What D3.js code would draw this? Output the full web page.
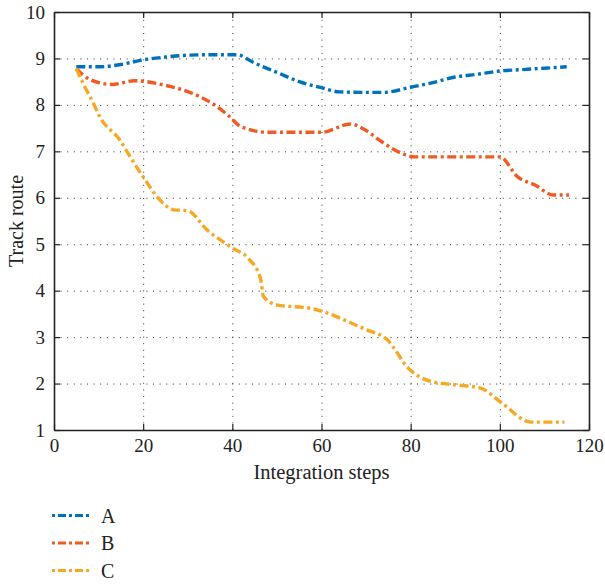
<!DOCTYPE html>
<html>
<head>
<meta charset="utf-8">
<script src="https://cdn.jsdelivr.net/npm/d3@7"></script>
<style>
  body { margin: 0; background: #fff; }
  text { font-family: "Liberation Serif", "DejaVu Serif", serif; fill: #222; }
</style>
</head>
<body>
<svg id="chart"></svg>
<script>
// Series data
const stepsA = [5, 10, 15, 20, 25, 30, 35, 41, 45, 50, 55, 60, 64, 70, 74, 80, 85, 90, 95, 100, 105, 110, 115];
const valuesA = [8.82, 8.82, 8.87, 8.97, 9.03, 9.07, 9.08, 9.08, 8.9, 8.7, 8.5, 8.37, 8.28, 8.27, 8.27, 8.38, 8.48, 8.6, 8.66, 8.73, 8.76, 8.79, 8.82];

const stepsB = [5, 8, 13, 18, 25, 31, 36, 39, 42, 48, 55, 60, 66.5, 70, 73, 77, 81, 90, 100, 104, 108, 112, 115.5];
const valuesB = [8.78, 8.55, 8.44, 8.52, 8.42, 8.25, 8.0, 7.78, 7.53, 7.41, 7.41, 7.41, 7.59, 7.45, 7.24, 7.0, 6.88, 6.88, 6.88, 6.45, 6.27, 6.06, 6.06];

const stepsC = [5, 6.5, 8.8, 10.3, 14.8, 17.1, 20, 23.8, 26.8, 30, 34.3, 40.2, 43.3, 46.3, 47, 50.1, 57.5, 60, 66.5, 70.3, 74.8, 77, 78.5, 85.2, 90.5, 95.7, 100.2, 107, 114.5];
const valuesC = [8.78, 8.47, 8.04, 7.74, 7.24, 6.88, 6.45, 5.95, 5.74, 5.72, 5.31, 4.91, 4.72, 4.27, 3.87, 3.69, 3.62, 3.56, 3.31, 3.15, 2.94, 2.66, 2.44, 2.03, 1.97, 1.9, 1.6, 1.17, 1.17];

const seriesNames = ["A", "B", "C"];
const seriesColors = ["#0072bd", "#f05a23", "#f7a823"];
const xTicks = [0, 20, 40, 60, 80, 100, 120];
const yTicks = [1, 2, 3, 4, 5, 6, 7, 8, 9, 10];

const width = 605;
const height = 584;
const margin = { left: 54, right: 16, top: 12, bottom: 154 };

const svg = d3.select("#chart").attr("width", width).attr("height", height);

const x = d3.scaleLinear().domain([0, 120]).range([margin.left, width - margin.right]);
const y = d3.scaleLinear().domain([1, 10]).range([height - margin.bottom, margin.top]);

// Grid (dotted)
const grid = svg.append("g").attr("stroke", "#333").attr("stroke-width", 1).attr("stroke-dasharray", "1,5.6");
grid.selectAll(".vg").data(xTicks.slice(1, -1)).enter().append("line")
  .attr("x1", d => x(d) + 0.5).attr("x2", d => x(d) + 0.5)
  .attr("y1", y(1)).attr("y2", y(10));
grid.selectAll(".hg").data(yTicks.slice(1, -1)).enter().append("line")
  .attr("y1", d => y(d) + 0.5).attr("y2", d => y(d) + 0.5)
  .attr("x1", x(0)).attr("x2", x(120));

// Axes with inward ticks
const fontSize = 19;
svg.append("g").attr("transform", `translate(0, ${y(1)})`)
  .call(d3.axisBottom(x).tickValues(xTicks).tickSizeInner(-6).tickSizeOuter(0).tickPadding(9));
svg.append("g").attr("transform", `translate(${x(0)}, 0)`)
  .call(d3.axisLeft(y).tickValues(yTicks).tickSizeInner(-6).tickSizeOuter(0).tickPadding(9));
svg.append("g").attr("transform", `translate(0, ${y(10)})`)
  .call(d3.axisTop(x).tickValues(xTicks).tickSizeInner(-6).tickSizeOuter(0).tickFormat(""));
svg.append("g").attr("transform", `translate(${x(120)}, 0)`)
  .call(d3.axisRight(y).tickValues(yTicks).tickSizeInner(-6).tickSizeOuter(0).tickFormat(""));

svg.selectAll(".domain").attr("stroke", "#222").attr("stroke-width", 1.6);
svg.selectAll(".tick line").attr("stroke", "#222").attr("stroke-width", 1.2);
svg.selectAll(".tick text").style("font-family", '"Liberation Serif", serif')
  .style("font-size", fontSize + "px").attr("fill", "#222");

// Axis titles
svg.append("text").attr("x", (x(0) + x(120)) / 2).attr("y", 479)
  .attr("text-anchor", "middle").style("font-size", "20.5px").text("Integration steps");
svg.append("text").attr("transform", `translate(23, ${(y(1) + y(10)) / 2}) rotate(-90)`)
  .attr("text-anchor", "middle").style("font-size", "20px").text("Track route");

// Lines
const stepsAll = [stepsA, stepsB, stepsC];
const valuesAll = [valuesA, valuesB, valuesC];
const line = d3.line().x(d => x(d[0])).y(d => y(d[1])).curve(d3.curveMonotoneX);

seriesNames.forEach((name, i) => {
  const pts = stepsAll[i].map((s, j) => [s, valuesAll[i][j]]);
  svg.append("path").datum(pts)
    .attr("fill", "none")
    .attr("stroke", seriesColors[i])
    .attr("stroke-width", 3.4)
    .attr("stroke-dasharray", "9,3.5,3,3.5")
    .attr("d", line);
});

// Legend
const legend = svg.append("g");
seriesNames.forEach((name, i) => {
  const ly = 515.5 + i * 27.5;
  legend.append("line").attr("x1", 52).attr("x2", 90).attr("y1", ly).attr("y2", ly)
    .attr("stroke", seriesColors[i]).attr("stroke-width", 3)
    .attr("stroke-dasharray", "3,3,8,3");
  legend.append("text").attr("x", 101).attr("y", ly + 7)
    .style("font-size", "20px").text(name);
});
</script>
</body>
</html>
